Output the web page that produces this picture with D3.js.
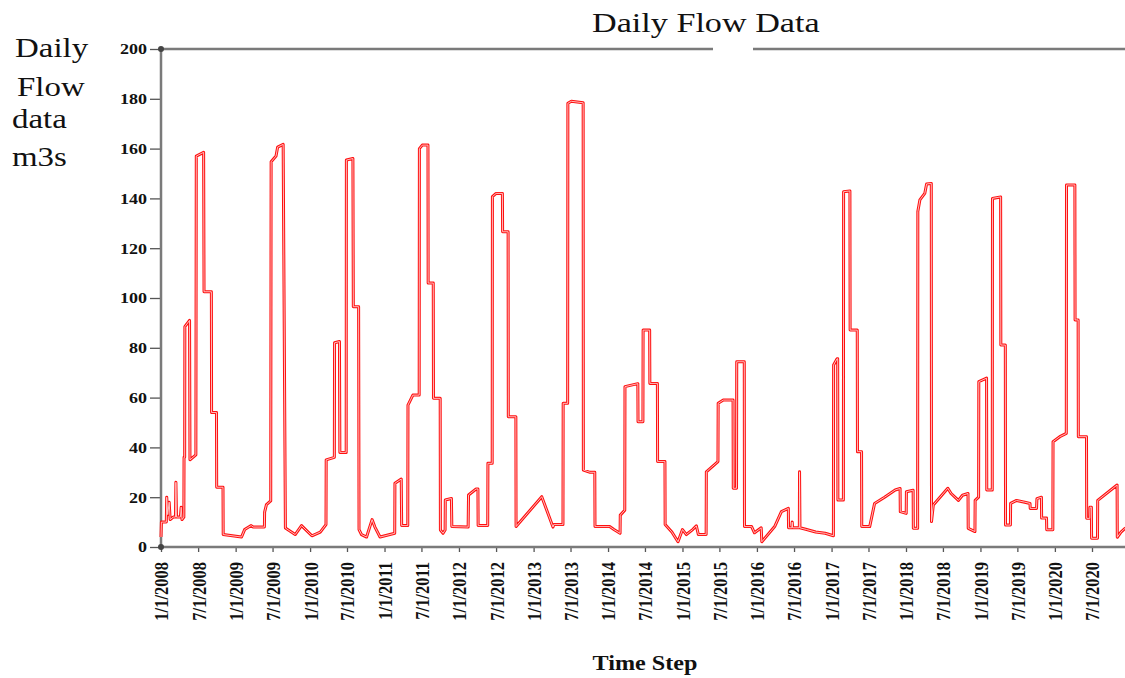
<!DOCTYPE html>
<html>
<head>
<meta charset="utf-8">
<script src="https://cdn.jsdelivr.net/npm/d3@7"></script>
<style>
  body { margin: 0; background: #fff; }
  text { font-family: "Liberation Serif", "Times New Roman", serif; }
</style>
</head>
<body>
<div class="canva"></div>
<script>
// daily flow (m3/s) at the dates where the level changes
const flow = [
  ["2008-01-01",4],["2008-01-03",10],["2008-01-27",10],["2008-01-29",20],["2008-02-03",13],["2008-02-10",18],
  ["2008-02-15",11],["2008-03-01",12],["2008-03-12",12],["2008-03-14",26],["2008-03-17",12],["2008-04-05",12],
  ["2008-04-09",16],["2008-04-13",11],["2008-04-22",12],["2008-04-23",36],["2008-04-26",36],["2008-04-27",88.5],
  ["2008-05-20",91],["2008-05-22",35],["2008-06-20",37],["2008-06-22",157],["2008-07-28",158.5],["2008-07-30",102.5],
  ["2008-09-04",102.5],["2008-09-05",54],["2008-09-29",54],["2008-09-30",24],["2008-10-31",24],["2008-11-01",5],
  ["2009-01-30",4],["2009-02-14",7],["2009-03-18",8.6],["2009-03-28",8],["2009-05-22",8],["2009-05-23",14],
  ["2009-06-01",17],["2009-06-22",18.5],["2009-06-24",154.7],["2009-07-18",157],["2009-07-26",160.6],["2009-08-22",161.7],
  ["2009-09-02",7.6],["2009-10-20",5],["2009-11-20",8.6],
  ["2010-01-10",4.5],["2010-02-20",6],["2010-03-20",9],["2010-03-21",35],["2010-04-30",36],["2010-05-01",82],
  ["2010-05-25",82.5],["2010-05-27",38],["2010-06-27",38],["2010-06-28",155.4],["2010-07-30",156],["2010-08-01",96.5],
  ["2010-08-27",96.5],["2010-08-29",7],["2010-09-10",5],["2010-10-05",4],["2010-11-01",11],["2010-11-15",8],["2010-12-10",4],
  ["2011-02-20",5.5],["2011-02-21",25.6],["2011-03-24",27.3],["2011-03-26",8.6],["2011-04-25",8.6],["2011-04-26",57],
  ["2011-05-20",61],["2011-06-20",61],["2011-06-21",160],["2011-07-05",161.4],["2011-08-02",161.4],["2011-08-03",106],
  ["2011-08-28",106],["2011-08-29",59.7],["2011-10-01",59.7],["2011-10-02",6.8],["2011-10-15",5.5],["2011-10-25",6.8],
  ["2011-10-26",18.9],["2011-11-25",19.5],["2011-11-27",8.2],
  ["2012-02-15",8],["2012-02-17",20.9],["2012-03-25",23.3],["2012-04-03",23.3],["2012-04-04",8.6],["2012-05-21",8.6],
  ["2012-05-22",33.6],["2012-06-12",33.6],["2012-06-13",140.7],["2012-07-01",142],["2012-08-01",142],["2012-08-02",126.6],
  ["2012-08-29",126.6],["2012-08-30",52.3],["2012-10-06",52.3],["2012-10-07",8.2],
  ["2013-02-10",20.2],["2013-04-06",8],["2013-04-10",9],["2013-05-25",9],["2013-05-26",57.7],["2013-06-17",57.7],
  ["2013-06-18",178.2],["2013-07-05",179],["2013-09-01",178.4],["2013-09-02",30.9],["2013-10-05",30],["2013-10-28",30],
  ["2013-10-29",8.2],
  ["2014-01-09",8.2],["2014-01-30",7],["2014-03-01",5.5],["2014-03-02",12.8],["2014-03-24",14.8],["2014-03-25",64.4],
  ["2014-05-27",65.6],["2014-05-28",50.3],["2014-06-21",50.3],["2014-06-22",87.1],["2014-07-24",87.1],["2014-07-25",65.7],
  ["2014-08-31",65.7],["2014-09-01",34.3],["2014-10-07",34.3],["2014-10-08",9],["2014-11-10",6],["2014-12-10",2.1],
  ["2015-01-01",7],["2015-01-20",5],["2015-02-20",7],["2015-03-10",8.5],["2015-03-20",5],["2015-04-27",5],
  ["2015-04-28",30.2],["2015-06-24",34.3],["2015-06-25",57.7],["2015-07-20",59],["2015-09-06",59],["2015-09-07",23.6],
  ["2015-09-23",23.6],["2015-09-24",74.4],["2015-10-31",74.4],["2015-11-01",8.2],["2015-12-06",8.2],["2015-12-20",5.7],
  ["2016-01-22",7.7],["2016-01-25",2.1],["2016-03-28",8.2],["2016-04-30",14.2],["2016-06-03",15.5],["2016-06-04",7.7],
  ["2016-06-20",7.7],["2016-06-22",10],["2016-06-24",7.7],["2016-07-27",7.7],["2016-07-28",30.2],["2016-07-29",20],
  ["2016-07-30",7.7],["2016-09-01",7],["2016-10-15",6],["2016-12-01",5.5],
  ["2017-01-10",4.5],["2017-01-11",73.1],["2017-01-28",75.6],["2017-01-31",75.6],["2017-02-01",18.9],["2017-02-28",18.9],
  ["2017-03-01",142.7],["2017-04-01",143],["2017-04-02",87.1],["2017-05-07",87.1],["2017-05-08",38.3],["2017-05-28",38.3],
  ["2017-05-29",8.2],["2017-07-07",8.2],["2017-07-31",17.5],["2017-09-18",20],["2017-11-09",22.9],["2017-12-03",23.5],
  ["2017-12-04",14.2],["2018-01-02",13.5],
  ["2018-01-03",22.2],["2018-02-05",22.8],["2018-02-06",7.5],["2018-02-27",7.5],["2018-02-28",134.7],["2018-03-10",139.4],
  ["2018-04-03",142],["2018-04-12",145.8],["2018-05-05",146],["2018-05-06",10.2],["2018-05-15",16.9],["2018-07-25",23.6],
  ["2018-08-10",21.5],["2018-09-15",18.7],["2018-10-05",20.8],["2018-11-01",21.5],["2018-11-02",7.5],["2018-12-05",6.2],
  ["2018-12-06",18.7],["2018-12-23",20],["2018-12-24",66.4],
  ["2019-01-31",67.8],["2019-02-01",22.9],["2019-02-28",22.9],["2019-03-01",140],["2019-04-10",140.6],["2019-04-11",81.1],
  ["2019-05-03",81.1],["2019-05-04",8.8],["2019-05-28",8.8],["2019-05-29",17.5],["2019-06-27",18.7],["2019-08-06",18],
  ["2019-09-01",17.5],["2019-09-02",15.5],["2019-10-03",15.5],["2019-10-05",19.4],["2019-10-27",20],["2019-10-28",11.6],
  ["2019-11-21",11.6],["2019-11-22",6.9],["2019-12-22",6.9],["2019-12-23",42.3],
  ["2020-01-25",44.3],["2020-02-26",45.6],["2020-02-27",145.4],["2020-04-08",145.4],["2020-04-09",91.2],["2020-04-24",91.2],
  ["2020-04-25",44.3],["2020-06-04",44.3],["2020-06-05",11.5],["2020-06-20",11.5],["2020-06-21",16],["2020-06-28",16],
  ["2020-06-29",3.5],["2020-07-28",3.5],["2020-07-29",18.7],["2020-11-01",24.9],["2020-11-02",3.9],["2020-11-20",6],
  ["2020-12-10",7.5],["2020-12-31",8]
];

const xTicks = ["1/1/2008","7/1/2008","1/1/2009","7/1/2009","1/1/2010","7/1/2010","1/1/2011","7/1/2011",
  "1/1/2012","7/1/2012","1/1/2013","7/1/2013","1/1/2014","7/1/2014","1/1/2015","7/1/2015","1/1/2016","7/1/2016",
  "1/1/2017","7/1/2017","1/1/2018","7/1/2018","1/1/2019","7/1/2019","1/1/2020","7/1/2020"];
const yTicks = [0, 20, 40, 60, 80, 100, 120, 140, 160, 180, 200];
const yTitle = ["Daily", "Flow", "data", "m3s"];
const chartTitle = "Daily Flow Data";
const xTitle = "Time Step";

const W = 1125, H = 678;
const svg = d3.select(".canva").append("svg")
  .attr("width", W)
  .attr("height", H);

const parseDay = d3.timeParse("%Y-%m-%d");
const parseTick = d3.timeParse("%m/%d/%Y");
const data = flow.map(d => ({date: parseDay(d[0]), value: d[1]}));

const x = d3.scaleTime()
  .domain([parseTick("1/1/2008"), parseTick("7/1/2020")])
  .range([161, 1092]);
const y = d3.scaleLinear().domain([0, 200]).range([547, 49]);

const axisGrey = "#7a7a7a";

// x axis
const gx = svg.append("g")
  .attr("transform", `translate(0,${y(0)})`)
  .call(d3.axisBottom(x)
    .tickValues(xTicks.map(parseTick))
    .tickSize(5)
    .tickFormat(d3.timeFormat("%-m/%-d/%Y")));
gx.select(".domain").remove();
gx.selectAll(".tick line").attr("stroke", "#555").attr("stroke-width", 1.3);
gx.selectAll(".tick text")
  .attr("y", null).attr("x", null)
  .attr("dy", "0.35em")
  .attr("text-anchor", "end")
  .attr("transform", "translate(0,15) rotate(-90) scale(1,1.2)")
  .style("font-family", "Liberation Serif")
  .style("font-weight", "bold")
  .style("font-size", "16.5px")
  .attr("fill", "#111");

// y axis
const gy = svg.append("g")
  .attr("transform", `translate(${x.range()[0]},0)`)
  .call(d3.axisLeft(y).tickValues(yTicks).tickSize(11).tickPadding(0));
gy.select(".domain").remove();
gy.selectAll(".tick line").attr("stroke", "#555").attr("stroke-width", 1.3);
gy.selectAll(".tick text")
  .attr("x", null)
  .attr("text-anchor", "end")
  .attr("transform", "translate(-14,0) scale(1.2,1)")
  .style("font-family", "Liberation Serif")
  .style("font-weight", "bold")
  .style("font-size", "15px")
  .attr("fill", "#111");

// frame: left axis, bottom axis, top line (with the gap seen in the original)
const x0 = x.range()[0];
svg.append("line").attr("x1", x0).attr("x2", x0).attr("y1", y(200)).attr("y2", y(0))
  .attr("stroke", axisGrey).attr("stroke-width", 2.5);
svg.append("line").attr("x1", x0).attr("x2", W).attr("y1", y(0)).attr("y2", y(0))
  .attr("stroke", axisGrey).attr("stroke-width", 2.5);
svg.append("line").attr("x1", x0).attr("x2", 713).attr("y1", y(200)).attr("y2", y(200))
  .attr("stroke", axisGrey).attr("stroke-width", 2.5);
svg.append("line").attr("x1", 753).attr("x2", W).attr("y1", y(200)).attr("y2", y(200))
  .attr("stroke", axisGrey).attr("stroke-width", 2.5);
svg.selectAll("circle.cap").data([0, 200]).join("circle")
  .attr("class", "cap")
  .attr("cx", x0).attr("cy", d => y(d)).attr("r", 3)
  .attr("fill", "#444");

// flow line: red with a pale core, like the original rendering
const line = d3.line().x(d => x(d.date)).y(d => y(d.value));
svg.append("path").datum(data)
  .attr("d", line)
  .attr("fill", "none")
  .attr("stroke", "#ff1010")
  .attr("stroke-width", 3)
  .attr("stroke-linejoin", "round");
svg.append("path").datum(data)
  .attr("d", line)
  .attr("fill", "none")
  .attr("stroke", "#ffd0d0")
  .attr("stroke-width", 0.9)
  .attr("stroke-linejoin", "round");

// titles
function addText(txt, tx, ty, size, weight, anchor, sx) {
  svg.append("text")
    .attr("transform", `translate(${tx},${ty}) scale(${sx},1)`)
    .attr("text-anchor", anchor)
    .style("font-size", size + "px")
    .style("font-weight", weight)
    .attr("fill", "#111")
    .text(txt);
}
addText(chartTitle, 592, 32, 28, "normal", "start", 1.22);
const yTitlePos = [[15, 57], [17, 96], [12, 128], [12, 166]];
yTitle.forEach((t, i) => addText(t, yTitlePos[i][0], yTitlePos[i][1], 27, "normal", "start", 1.22));
addText(xTitle, 645, 670, 21, "bold", "middle", 1.15);
</script>
</body>
</html>
